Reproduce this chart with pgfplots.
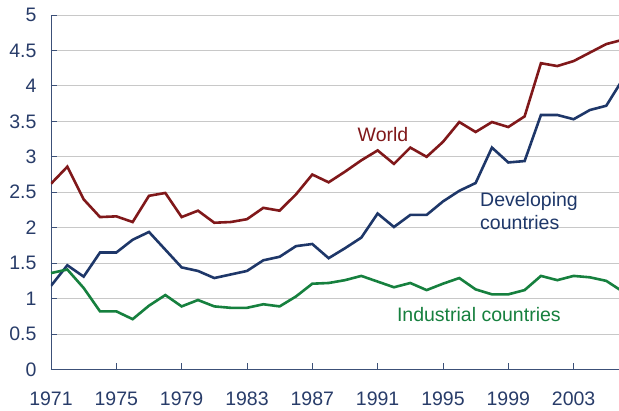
\documentclass[border=0pt]{standalone}
\usepackage{pgfplots}
\pgfplotsset{compat=1.18}
\usepackage{fontspec}
\setmainfont{Liberation Sans}
\definecolor{worldc}{RGB}{128,24,26}
\definecolor{devc}{RGB}{30,55,105}
\definecolor{indc}{RGB}{22,128,62}
\definecolor{tickc}{RGB}{40,60,105}
\definecolor{axc}{RGB}{60,80,120}
\definecolor{gridc}{RGB}{200,200,200}
\begin{document}
\fontsize{19bp}{23bp}\selectfont
\begin{tikzpicture}
\useasboundingbox (-51bp,-41.5bp) rectangle (568bp,369.5bp);
\begin{axis}[
  at={(0,0)}, anchor=south west,
  scale only axis, width=568bp, height=354.5bp,
  xmin=1971, xmax=2005.78, ymin=0, ymax=5,
  axis x line*=bottom, axis y line*=left,
  axis line style={axc, line width=0.8bp, -},
  xtick={1971,1975,...,2003},
  ytick={0,0.5,...,5},
  yticklabels={0,0.5,1,1.5,2,2.5,3,3.5,4,4.5,5},
  xticklabel style={/pgf/number format/1000 sep={}},
  /pgf/number format/assume math mode=true,
  tick style={axc, line width=0.8bp},
  tick align=inside, major tick length=6bp,
  ticklabel style={font=\fontsize{19.5bp}{23bp}\selectfont, text=tickc},
  xticklabel style={yshift=-16bp},
  yticklabel style={xshift=-8bp},
  ymajorgrids, grid style={gridc, line width=0.9bp},
  clip=true,
]
\addplot[worldc, line width=2.6bp] coordinates {
(1971,2.62)(1972,2.86)(1973,2.40)(1974,2.15)(1975,2.16)(1976,2.08)(1977,2.45)(1978,2.49)
(1979,2.15)(1980,2.24)(1981,2.07)(1982,2.08)(1983,2.12)(1984,2.28)(1985,2.24)(1986,2.47)
(1987,2.75)(1988,2.64)(1989,2.79)(1990,2.95)(1991,3.09)(1992,2.90)(1993,3.13)(1994,3.00)
(1995,3.21)(1996,3.49)(1997,3.35)(1998,3.49)(1999,3.42)(2000,3.57)(2001,4.32)(2002,4.28)
(2003,4.35)(2004,4.47)(2005,4.59)(2006,4.65)};
\addplot[devc, line width=2.6bp] coordinates {
(1971,1.18)(1972,1.47)(1973,1.31)(1974,1.65)(1975,1.65)(1976,1.83)(1977,1.94)(1978,1.69)
(1979,1.44)(1980,1.39)(1981,1.29)(1982,1.34)(1983,1.39)(1984,1.54)(1985,1.59)(1986,1.74)
(1987,1.77)(1988,1.57)(1989,1.71)(1990,1.86)(1991,2.20)(1992,2.01)(1993,2.18)(1994,2.18)
(1995,2.37)(1996,2.52)(1997,2.63)(1998,3.13)(1999,2.92)(2000,2.94)(2001,3.59)(2002,3.59)
(2003,3.53)(2004,3.66)(2005,3.72)(2006,4.09)};
\addplot[indc, line width=2.6bp] coordinates {
(1971,1.36)(1972,1.41)(1973,1.15)(1974,0.82)(1975,0.82)(1976,0.71)(1977,0.90)(1978,1.05)
(1979,0.89)(1980,0.98)(1981,0.89)(1982,0.87)(1983,0.87)(1984,0.92)(1985,0.89)(1986,1.03)
(1987,1.21)(1988,1.22)(1989,1.26)(1990,1.32)(1991,1.24)(1992,1.16)(1993,1.22)(1994,1.12)
(1995,1.21)(1996,1.29)(1997,1.13)(1998,1.06)(1999,1.06)(2000,1.12)(2001,1.32)(2002,1.26)
(2003,1.32)(2004,1.30)(2005,1.25)(2006,1.10)};
\node[text=worldc, font=\fontsize{19.5bp}{23bp}\selectfont] at (axis cs:1991.33,3.31) {World};
\node[text=devc, anchor=west, align=left, inner sep=0pt, font=\fontsize{19.5bp}{23.5bp}\selectfont] at (axis cs:1997.27,2.235) {Developing\\countries};
\node[text=indc, font=\fontsize{19.5bp}{23bp}\selectfont] at (axis cs:1997.2,0.77) {Industrial countries};
\end{axis}
\end{tikzpicture}
\end{document}
